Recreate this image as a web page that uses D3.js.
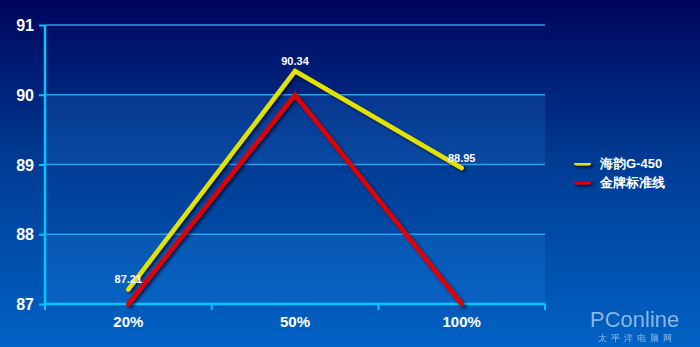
<!DOCTYPE html>
<html>
<head>
<meta charset="utf-8">
<script src="https://cdn.jsdelivr.net/npm/d3@7"></script>
<style>
  body { margin: 0; padding: 0; overflow: hidden; }
  text { font-family: "Liberation Sans", Arial, sans-serif; font-weight: bold; fill: #fff; }
</style>
</head>
<body>
<div id="chart"></div>
<script>
// data
var categories = ["20%", "50%", "100%"]
var seriesNames = ["海韵G-450", "金牌标准线"]
var haiyun = [87.21, 90.34, 88.95]
var standard = [87, 90, 87]
var yTicks = [87, 88, 89, 90, 91]
var colors = ["#e3e300", "#e00000"]

var W = 700, H = 347
var margin = { top: 25, right: 155, bottom: 43, left: 45 }
var width = W - margin.left - margin.right,
  height = H - margin.top - margin.bottom

var svg = d3.select("#chart").append("svg")
  .attr("width", W).attr("height", H)

var defs = svg.append("defs")
var grad = defs.append("linearGradient").attr("id", "bg")
  .attr("x1", 0).attr("y1", 0).attr("x2", 0).attr("y2", 1)
grad.append("stop").attr("offset", "0%").attr("stop-color", "#00045c")
grad.append("stop").attr("offset", "45%").attr("stop-color", "#003a92")
grad.append("stop").attr("offset", "100%").attr("stop-color", "#0062c4")

// user space filter so thin/flat shapes still get a shadow
var shadow = defs.append("filter").attr("id", "shadow")
  .attr("filterUnits", "userSpaceOnUse")
  .attr("x", 0).attr("y", 0).attr("width", W).attr("height", H)
shadow.append("feDropShadow").attr("dx", 2).attr("dy", 2).attr("stdDeviation", 1.5)
  .attr("flood-color", "#000022").attr("flood-opacity", 0.7)

svg.append("rect").attr("width", W).attr("height", H).attr("fill", "url(#bg)")

var g = svg.append("g").attr("transform", "translate(" + margin.left + "," + margin.top + ")")

var x = d3.scaleBand().domain(categories).range([0, width])
var y = d3.scaleLinear().domain([87, 91]).range([height, 0])

// alternating bands
for (var i = 0; i < yTicks.length - 1; i++) {
  if (i % 2 == 0) {
    g.append("rect")
      .attr("x", 0).attr("width", width)
      .attr("y", y(yTicks[i + 1])).attr("height", y(yTicks[i]) - y(yTicks[i + 1]))
      .attr("fill", "#3aa0ff").attr("fill-opacity", 0.14)
  }
}

// grid lines
g.selectAll(".grid").data(yTicks.slice(1)).enter().append("line")
  .attr("x1", 0).attr("x2", width)
  .attr("y1", function (d) { return y(d) }).attr("y2", function (d) { return y(d) })
  .attr("stroke", "#2aa0e8").attr("stroke-width", 1.3)

// y axis
var yAxis = g.append("g")
  .call(d3.axisLeft(y).tickValues(yTicks).tickSize(6).tickPadding(5).tickFormat(d3.format("d")))
yAxis.select(".domain").attr("stroke", "#00c8ff").attr("stroke-width", 2.5)
  .attr("d", "M0," + y(91) + "V" + y(87))
yAxis.selectAll(".tick line").attr("stroke", "#00c8ff").attr("stroke-width", 2)
yAxis.selectAll(".tick text").style("font-size", "16px").attr("dy", "0.35em")

// x axis
var xAxis = g.append("g").attr("transform", "translate(0," + height + ")")
  .call(d3.axisBottom(x).tickSize(0).tickPadding(12))
xAxis.select(".domain").attr("stroke", "#00c8ff").attr("stroke-width", 2.5)
  .attr("d", "M0,0H" + width)
xAxis.selectAll(".tick text").style("font-size", "15px")
var bounds = [0].concat(categories.map(function (c) { return x(c) + x.bandwidth() }))
xAxis.selectAll(".xt").data(bounds).enter().append("line")
  .attr("x1", function (d) { return d }).attr("x2", function (d) { return d })
  .attr("y1", 0).attr("y2", 6)
  .attr("stroke", "#00c8ff").attr("stroke-width", 2)

// lines
var line = d3.line()
  .x(function (d, i) { return x(categories[i]) + x.bandwidth() / 2 })
  .y(function (d) { return y(d) })

// red first so yellow sits on top
g.append("path").datum(standard)
  .attr("fill", "none").attr("stroke", colors[1]).attr("stroke-width", 4.5)
  .attr("stroke-linejoin", "miter").attr("stroke-linecap", "round")
  .attr("filter", "url(#shadow)").attr("d", line)
g.append("path").datum(haiyun)
  .attr("fill", "none").attr("stroke", colors[0]).attr("stroke-width", 4.5)
  .attr("stroke-linejoin", "miter").attr("stroke-linecap", "round")
  .attr("filter", "url(#shadow)").attr("d", line)

// value labels
g.selectAll(".lbl").data(haiyun).enter().append("text")
  .attr("x", function (d, i) { return x(categories[i]) + x.bandwidth() / 2 })
  .attr("y", function (d) { return y(d) - 6 })
  .attr("text-anchor", "middle")
  .style("font-size", "11px")
  .text(function (d) { return d.toFixed(2) })

// legend
var legend = svg.append("g").attr("transform", "translate(574,163)")
seriesNames.forEach(function (name, i) {
  var row = legend.append("g").attr("transform", "translate(0," + i * 19 + ")")
  row.append("rect").attr("x", 0).attr("y", -2.5).attr("width", 17).attr("height", 5)
    .attr("rx", 2.5).attr("fill", colors[i])
    .attr("filter", "url(#shadow)")
  row.append("text").attr("x", 26).attr("y", 0).attr("dy", "0.35em")
    .style("font-size", "13px").text(name)
})

// watermark
var wm = svg.append("g").attr("opacity", 0.55)
wm.append("text").attr("x", 590).attr("y", 327)
  .style("font-size", "22px").style("font-weight", "normal").text("PConline")
wm.append("text").attr("x", 598).attr("y", 341)
  .style("font-size", "9px").style("font-weight", "normal")
  .style("letter-spacing", "4px").text("太平洋电脑网")
</script>
</body>
</html>
